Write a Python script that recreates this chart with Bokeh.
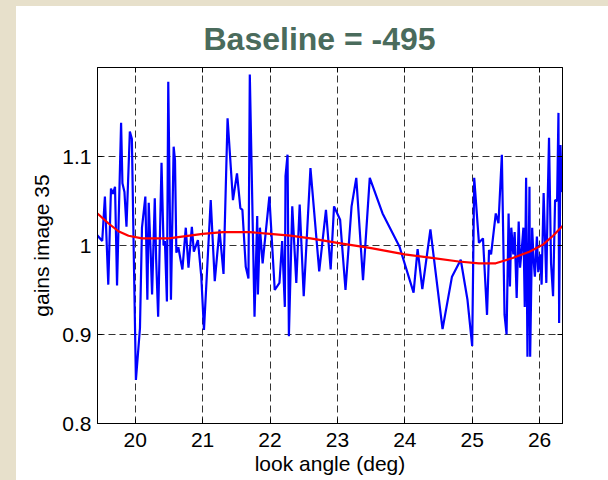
from bokeh.plotting import figure
from bokeh.models import Range1d, LinearAxis, FixedTicker, Div
from bokeh.layouts import row, column
from bokeh.embed import file_html
from bokeh.resources import INLINE

# ---- data ----
gain_x = [19.43, 19.51, 19.55, 19.60, 19.64, 19.67, 19.70, 19.73, 19.79, 19.81, 19.84, 19.87,
          19.92, 19.95, 19.98, 20.01, 20.07, 20.10, 20.15, 20.18, 20.20, 20.23, 20.25, 20.29,
          20.31, 20.34, 20.39, 20.42, 20.44, 20.47, 20.49, 20.53, 20.57, 20.59, 20.61, 20.64,
          20.67, 20.70, 20.75, 20.79, 20.84, 20.87, 20.93, 20.98, 21.02, 21.12, 21.18, 21.25,
          21.31, 21.37, 21.45, 21.51, 21.56, 21.59, 21.64, 21.68, 21.70, 21.77, 21.81, 21.82,
          21.85, 21.89, 21.99, 22.07, 22.14, 22.18, 22.22, 22.23, 22.26, 22.28, 22.33, 22.39,
          22.44, 22.50, 22.60, 22.73, 22.83, 22.90, 22.95, 23.04, 23.12, 23.21, 23.28, 23.38,
          23.48, 23.67, 23.92, 24.13, 24.19, 24.26, 24.38, 24.56, 24.70, 24.83, 24.93, 25.00,
          25.03, 25.10, 25.16, 25.22, 25.25, 25.28, 25.35, 25.39, 25.44, 25.48, 25.51, 25.54,
          25.56, 25.58, 25.61, 25.63, 25.66, 25.69, 25.71, 25.74, 25.76, 25.78, 25.80, 25.82,
          25.85, 25.86, 25.89, 25.91, 25.93, 25.96, 25.98, 26.01, 26.03, 26.06, 26.10, 26.12,
          26.14, 26.17, 26.20, 26.23, 26.26, 26.28, 26.29, 26.31, 26.33]
gain_y = [1.012, 1.005, 1.055, 0.956, 1.064, 1.058, 1.066, 0.955, 1.138, 1.070, 1.060, 1.021,
          1.128, 1.120, 0.982, 0.849, 0.907, 1.020, 1.055, 0.939, 1.048, 0.990, 0.945, 1.053,
          0.985, 0.920, 1.093, 1.000, 1.005, 0.937, 1.184, 0.939, 1.111, 1.096, 0.992, 0.998,
          0.985, 0.973, 1.020, 0.975, 1.021, 0.993, 1.006, 0.965, 0.905, 1.051, 0.960, 1.018,
          0.968, 1.143, 1.051, 1.081, 1.042, 1.040, 0.976, 0.963, 1.192, 0.920, 1.033, 0.945,
          1.020, 0.980, 1.055, 0.950, 0.958, 1.005, 0.931, 1.078, 1.102, 0.898, 1.044, 0.958,
          1.046, 0.943, 1.087, 0.971, 1.040, 0.973, 1.044, 1.029, 0.950, 1.044, 1.076, 0.961,
          1.076, 1.036, 0.999, 0.947, 0.996, 0.951, 1.018, 0.906, 0.965, 0.984, 0.939, 0.887,
          1.076, 1.003, 1.008, 0.922, 0.995, 0.990, 1.036, 1.025, 1.102, 0.922, 0.900, 1.036,
          0.954, 1.020, 0.990, 1.015, 0.941, 1.027, 0.975, 1.000, 1.020, 0.931, 1.076, 0.875,
          1.066, 0.875, 1.020, 0.985, 0.965, 1.010, 0.970, 0.990, 0.956, 1.059, 0.958, 1.050,
          1.121, 0.980, 0.943, 1.051, 1.050, 1.149, 0.913, 1.113, 1.060]

fit_x = [19.44, 19.60, 19.75, 19.90, 20.10, 20.50, 21.00, 21.30, 21.70, 22.00, 22.30, 22.60,
         23.00, 23.50, 24.00, 24.40, 24.80, 25.10, 25.35, 25.60, 25.85, 26.05, 26.20, 26.34]
fit_y = [1.036, 1.025, 1.016, 1.011, 1.008, 1.008, 1.013, 1.015, 1.015, 1.013, 1.011, 1.008,
         1.003, 0.997, 0.990, 0.986, 0.982, 0.980, 0.980, 0.986, 0.993, 1.001, 1.011, 1.022]

x_ticks = [20, 21, 22, 23, 24, 25, 26]
y_ticks = [0.8, 0.9, 1.0, 1.1]
y_tick_labels = {0.8: "0.8", 0.9: "0.9", 1.0: "1", 1.1: "1.1"}

FONT = "Liberation Sans"
BEIGE = "#E7E0CB"

p = figure(width=592, height=474, output_backend="svg", toolbar_location=None,
           x_range=Range1d(19.44, 26.34), y_range=Range1d(0.8, 1.2),
           min_border_left=81, min_border_right=46, min_border_top=61, min_border_bottom=57,
           background_fill_color="white", border_fill_color="white",
           outline_line_color="black", outline_line_width=1)

p.title.text = "Baseline = -495"
p.title.text_font = FONT
p.title.text_font_size = "32px"
p.title.text_font_style = "bold"
p.title.text_color = "#4A6B5C"
p.title.align = "left"
p.title.offset = 106
p.title.standoff = 21

p.line(gain_x, gain_y, line_color="#0000FF", line_width=2.2)
p.line(fit_x, fit_y, line_color="#FF0000", line_width=2.2)

def style_axis(ax):
    ax.axis_line_color = "black"
    ax.major_tick_in = 5
    ax.major_tick_out = 0
    ax.major_tick_line_color = "black"
    ax.minor_tick_line_color = None
    ax.major_label_text_font = FONT
    ax.major_label_text_color = "black"
    ax.major_label_text_font_size = "21px"
    ax.axis_label_text_font = FONT
    ax.axis_label_text_font_size = "21px"
    ax.axis_label_text_font_style = "normal"
    ax.axis_label_text_color = "black"

xa = p.xaxis[0]
xa.ticker = FixedTicker(ticks=x_ticks)
xa.axis_label = "look angle (deg)"
style_axis(xa)
xa.major_label_standoff = 9
xa.axis_label_standoff = 2

ya = p.yaxis[0]
ya.ticker = FixedTicker(ticks=y_ticks)
ya.major_label_overrides = y_tick_labels
ya.axis_label = "gains image 35"
style_axis(ya)
ya.major_label_standoff = 6
ya.axis_label_standoff = 6

top = LinearAxis(ticker=FixedTicker(ticks=x_ticks))
style_axis(top)
top.major_label_overrides = {t: "" for t in x_ticks}
top.major_label_standoff = 0
p.add_layout(top, "above")
right = LinearAxis(ticker=FixedTicker(ticks=y_ticks))
style_axis(right)
right.major_label_overrides = {t: "" for t in y_ticks}
right.major_label_standoff = 0
p.add_layout(right, "right")

p.xgrid.ticker = FixedTicker(ticks=x_ticks)
p.ygrid.ticker = FixedTicker(ticks=y_ticks)
for g in (p.xgrid[0], p.ygrid[0]):
    g.grid_line_color = "#333333"
    g.grid_line_dash = "7 4"
    g.grid_line_width = 1

top_strip = Div(width=608, height=6, margin=0, styles={"background-color": BEIGE})
left_strip = Div(width=16, height=474, margin=0, styles={"background-color": BEIGE})
layout = column(top_strip, row(left_strip, p, spacing=0), spacing=0)

open("out.html", "w").write(file_html(layout, INLINE))
